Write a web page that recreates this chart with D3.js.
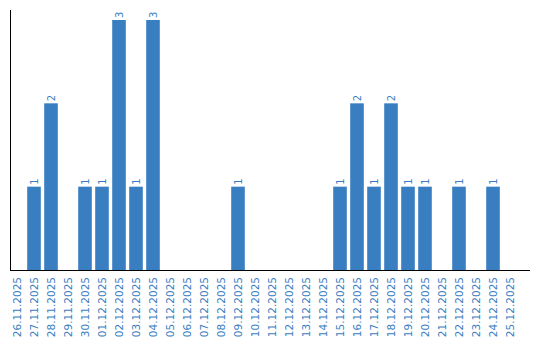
<!DOCTYPE html>
<html><head><meta charset="utf-8">
<script src="https://cdn.jsdelivr.net/npm/d3@7"></script>
<style>body{margin:0;background:#fff}svg{display:block}</style>
</head><body>
<svg id="c" width="540" height="340"></svg>
<script>
const categories = ["26.11.2025","27.11.2025","28.11.2025","29.11.2025","30.11.2025","01.12.2025","02.12.2025","03.12.2025","04.12.2025","05.12.2025","06.12.2025","07.12.2025","08.12.2025","09.12.2025","10.12.2025","11.12.2025","12.12.2025","13.12.2025","14.12.2025","15.12.2025","16.12.2025","17.12.2025","18.12.2025","19.12.2025","20.12.2025","21.12.2025","22.12.2025","23.12.2025","24.12.2025","25.12.2025"];
const values = [0,1,2,0,1,1,3,1,3,0,0,0,0,1,0,0,0,0,0,1,2,1,2,1,1,0,1,0,1,0];

const svg = d3.select("#c");
const color = "#3a7ec2";
const font = "DejaVu Sans, Verdana, sans-serif";
const x = d3.scaleBand().domain(categories).range([8.5, 518.5]).paddingInner(0.2).paddingOuter(0.1);
const y = d3.scaleLinear().domain([0, 3.12]).range([270, 10]);

svg.selectAll("rect.bar").data(values).join("rect")
  .attr("x", (d,i) => x(categories[i]))
  .attr("width", x.bandwidth())
  .attr("y", d => y(d))
  .attr("height", d => y(0) - y(d))
  .attr("fill", color);

svg.selectAll("text.val").data(values.map((v,i)=>({v,i})).filter(d=>d.v>0)).join("text")
  .attr("transform", d => `translate(${x(categories[d.i]) + x.bandwidth()/2},${y(d.v) - 2}) rotate(-90)`)
  .attr("dy", "0.35em")
  .attr("text-anchor", "start")
  .attr("font-family", font).attr("font-size", 10)
  .attr("fill", color)
  .text(d => d.v);

// axes lines
svg.append("line").attr("x1", 10.5).attr("x2", 10.5).attr("y1", 10).attr("y2", 270.5).attr("stroke", "#000").attr("stroke-width", 1);
svg.append("line").attr("x1", 10).attr("x2", 530).attr("y1", 270.5).attr("y2", 270.5).attr("stroke", "#000").attr("stroke-width", 1);

svg.selectAll("text.cat").data(categories).join("text")
  .attr("transform", d => `translate(${x(d) + x.bandwidth()/2},277) rotate(-90)`)
  .attr("dy", "0.35em")
  .attr("text-anchor", "end")
  .attr("font-family", font).attr("font-size", 10.5)
  .attr("fill", color)
  .text(d => d);
</script>
</body></html>
